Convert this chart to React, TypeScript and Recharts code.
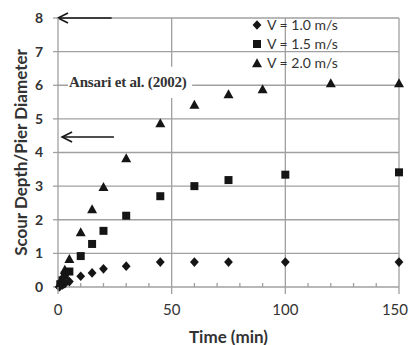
import {
  CartesianGrid,
  Legend,
  ReferenceArea,
  ReferenceLine,
  Scatter,
  ScatterChart,
  XAxis,
  YAxis
} from "recharts";

// Ansari et al. (2002) scour development
const timeV10 = [0.5, 1, 2, 3, 5, 10, 15, 20, 30, 45, 60, 75, 100, 150];
const depthV10 = [0, 0.03, 0.06, 0.1, 0.16, 0.32, 0.42, 0.54, 0.62, 0.74, 0.74, 0.74, 0.74, 0.74];

const timeV15 = [1, 2, 3, 5, 10, 15, 20, 30, 45, 60, 75, 100, 150];
const depthV15 = [0.08, 0.2, 0.35, 0.46, 0.92, 1.28, 1.67, 2.12, 2.7, 3.0, 3.18, 3.34, 3.41];

const timeV20 = [1, 2, 3, 5, 10, 15, 20, 30, 45, 60, 75, 90, 120, 150];
const depthV20 = [0.12, 0.3, 0.52, 0.84, 1.64, 2.32, 2.98, 3.84, 4.88, 5.43, 5.74, 5.89, 6.07, 6.07];

const seriesNames = ["V = 1.0 m/s", "V = 1.5 m/s", "V = 2.0 m/s"];
const xTicks = [0, 10, 20, 30, 40, 50, 60, 70, 80, 90, 100, 110, 120, 130, 140, 150];
const xMajorTicks = [0, 50, 100, 150];
const yTicks = [0, 1, 2, 3, 4, 5, 6, 7, 8];
const xTitle = "Time (min)";
const yTitle = "Scour Depth/Pier Diameter";
const annotation = "Ansari et al. (2002)";

// annotation arrows [x tip, x tail, y]
const arrowTop = [0, 23.6, 8];
const arrowMid = [1.8, 24.6, 4.46];

const GRID = "#a0a0a0";
const INK = "#151515";
const TEXT = "#333333";
const SANS = "Lato, 'Open Sans', sans-serif";

type Kind = "diamond" | "square" | "triangle";
const kinds: Kind[] = ["diamond", "square", "triangle"];

function markerPath(kind: Kind, cx: number, cy: number): string {
  if (kind === "diamond") {
    return `M${cx},${cy - 4.8}L${cx + 4.4},${cy}L${cx},${cy + 4.8}L${cx - 4.4},${cy}Z`;
  }
  if (kind === "square") {
    return `M${cx - 4},${cy - 4}h8v8h-8Z`;
  }
  return `M${cx},${cy - 4.7}L${cx + 5},${cy + 4.3}L${cx - 5},${cy + 4.3}Z`;
}

const makeShape = (kind: Kind) => (props: any) => (
  <path d={markerPath(kind, props.cx, props.cy)} fill={INK} />
);

const toPoints = (ts: number[], ds: number[]) => ts.map((t, i) => ({ t, d: ds[i] }));

const ArrowShape = (props: any) => {
  const { x1, y1, x2, y2 } = props;
  const tipX = Math.min(x1, x2);
  const tailX = Math.max(x1, x2);
  const y = y1 ?? y2;
  return (
    <g stroke={INK} strokeWidth={1.6} fill="none">
      <line x1={tipX} y1={y} x2={tailX} y2={y} />
      <polyline points={`${tipX + 10},${y - 5} ${tipX},${y} ${tipX + 10},${y + 5}`} />
    </g>
  );
};

const XTick = (props: any) => {
  const { x, y, payload } = props;
  const major = xMajorTicks.includes(payload.value);
  const last = payload.value === xMajorTicks[xMajorTicks.length - 1];
  return (
    <g>
      {major ? (
        <line x1={x} x2={x} y1={y} y2={y + 7} stroke={GRID} strokeWidth={1.3} />
      ) : (
        <line x1={x} x2={x} y1={y - 4} y2={y} stroke={GRID} strokeWidth={1.3} />
      )}
      {major ? (
        <text
          x={last ? 408 : x}
          y={y + 22}
          textAnchor={last ? "end" : "middle"}
          dominantBaseline="central"
          fontFamily={SANS}
          fontSize={15}
          fill={TEXT}
        >
          {payload.value}
        </text>
      ) : null}
    </g>
  );
};

const LegendBox = () => (
  <div style={{ fontFamily: SANS, fontSize: 14, color: TEXT }}>
    {seriesNames.map((name, i) => (
      <div key={name} style={{ display: "flex", alignItems: "center", height: 19 }}>
        <svg width={14} height={14} style={{ marginRight: 3 }}>
          <path d={markerPath(kinds[i], 7, 7)} fill={INK} />
        </svg>
        <span>{name}</span>
      </div>
    ))}
  </div>
);

export default function App() {
  const seriesData = [
    toPoints(timeV10, depthV10),
    toPoints(timeV15, depthV15),
    toPoints(timeV20, depthV20)
  ];

  return (
    <div style={{ position: "absolute", left: 0, top: 0, width: 409, height: 345, background: "#ffffff" }}>
      <ScatterChart width={409} height={345} margin={{ top: 18, right: 10, left: 0, bottom: 0 }}>
        <CartesianGrid
          stroke={GRID}
          strokeWidth={1.3}
          verticalValues={[50, 100, 150]}
          horizontalValues={[1, 2, 3, 4, 5, 6, 7, 8]}
        />
        <XAxis
          type="number"
          dataKey="t"
          domain={[0, 150]}
          ticks={xTicks}
          interval={0}
          height={58}
          tickSize={0}
          tickMargin={0}
          tickLine={false}
          tick={<XTick />}
          axisLine={{ stroke: GRID, strokeWidth: 1.3 }}
          label={{
            content: (p: any) => (
              <text
                x={p.viewBox.x + p.viewBox.width / 2}
                y={p.viewBox.y + 49}
                textAnchor="middle"
                dominantBaseline="central"
                fontFamily={SANS}
                fontWeight="bold"
                fontSize={17}
                fill={TEXT}
              >
                {xTitle}
              </text>
            )
          }}
        />
        <YAxis
          type="number"
          dataKey="d"
          domain={[0, 8]}
          ticks={yTicks}
          interval={0}
          width={58}
          tickSize={5}
          tickMargin={10}
          tickLine={{ stroke: GRID, strokeWidth: 1.3 }}
          axisLine={{ stroke: GRID, strokeWidth: 1.3 }}
          tick={{ fontFamily: SANS, fontSize: 14, fontWeight: "bold", fill: TEXT }}
          label={{
            content: (p: any) => (
              <text
                transform={`translate(${p.viewBox.x + 20},${p.viewBox.y + p.viewBox.height / 2}) rotate(-90)`}
                textAnchor="middle"
                dominantBaseline="central"
                fontFamily={SANS}
                fontWeight="bold"
                fontSize={17}
                fill={TEXT}
              >
                {yTitle}
              </text>
            )
          }}
        />
        <ReferenceArea
          x1={4.4}
          x2={59}
          y1={5.62}
          y2={6.55}
          fill="#ffffff"
          fillOpacity={1}
          stroke="none"
          label={(p: any) => (
            <text
              x={p.viewBox.x + 1}
              y={p.viewBox.y + p.viewBox.height / 2}
              dominantBaseline="central"
              fontFamily="'Liberation Serif', serif"
              fontWeight="bold"
              fontSize={15}
              letterSpacing={-0.2}
              fill={TEXT}
            >
              {annotation}
            </text>
          )}
        />
        <ReferenceLine
          segment={[{ x: arrowTop[0], y: arrowTop[2] }, { x: arrowTop[1], y: arrowTop[2] }]}
          shape={ArrowShape}
        />
        <ReferenceLine
          segment={[{ x: arrowMid[0], y: arrowMid[2] }, { x: arrowMid[1], y: arrowMid[2] }]}
          shape={ArrowShape}
        />
        {seriesData.map((data, i) => (
          <Scatter
            key={seriesNames[i]}
            name={seriesNames[i]}
            data={data}
            shape={makeShape(kinds[i])}
            isAnimationActive={false}
          />
        ))}
        <Legend
          layout="vertical"
          align="center"
          verticalAlign="middle"
          content={<LegendBox />}
          wrapperStyle={{ top: 15, left: 250, width: 110 }}
        />
      </ScatterChart>
    </div>
  );
}
